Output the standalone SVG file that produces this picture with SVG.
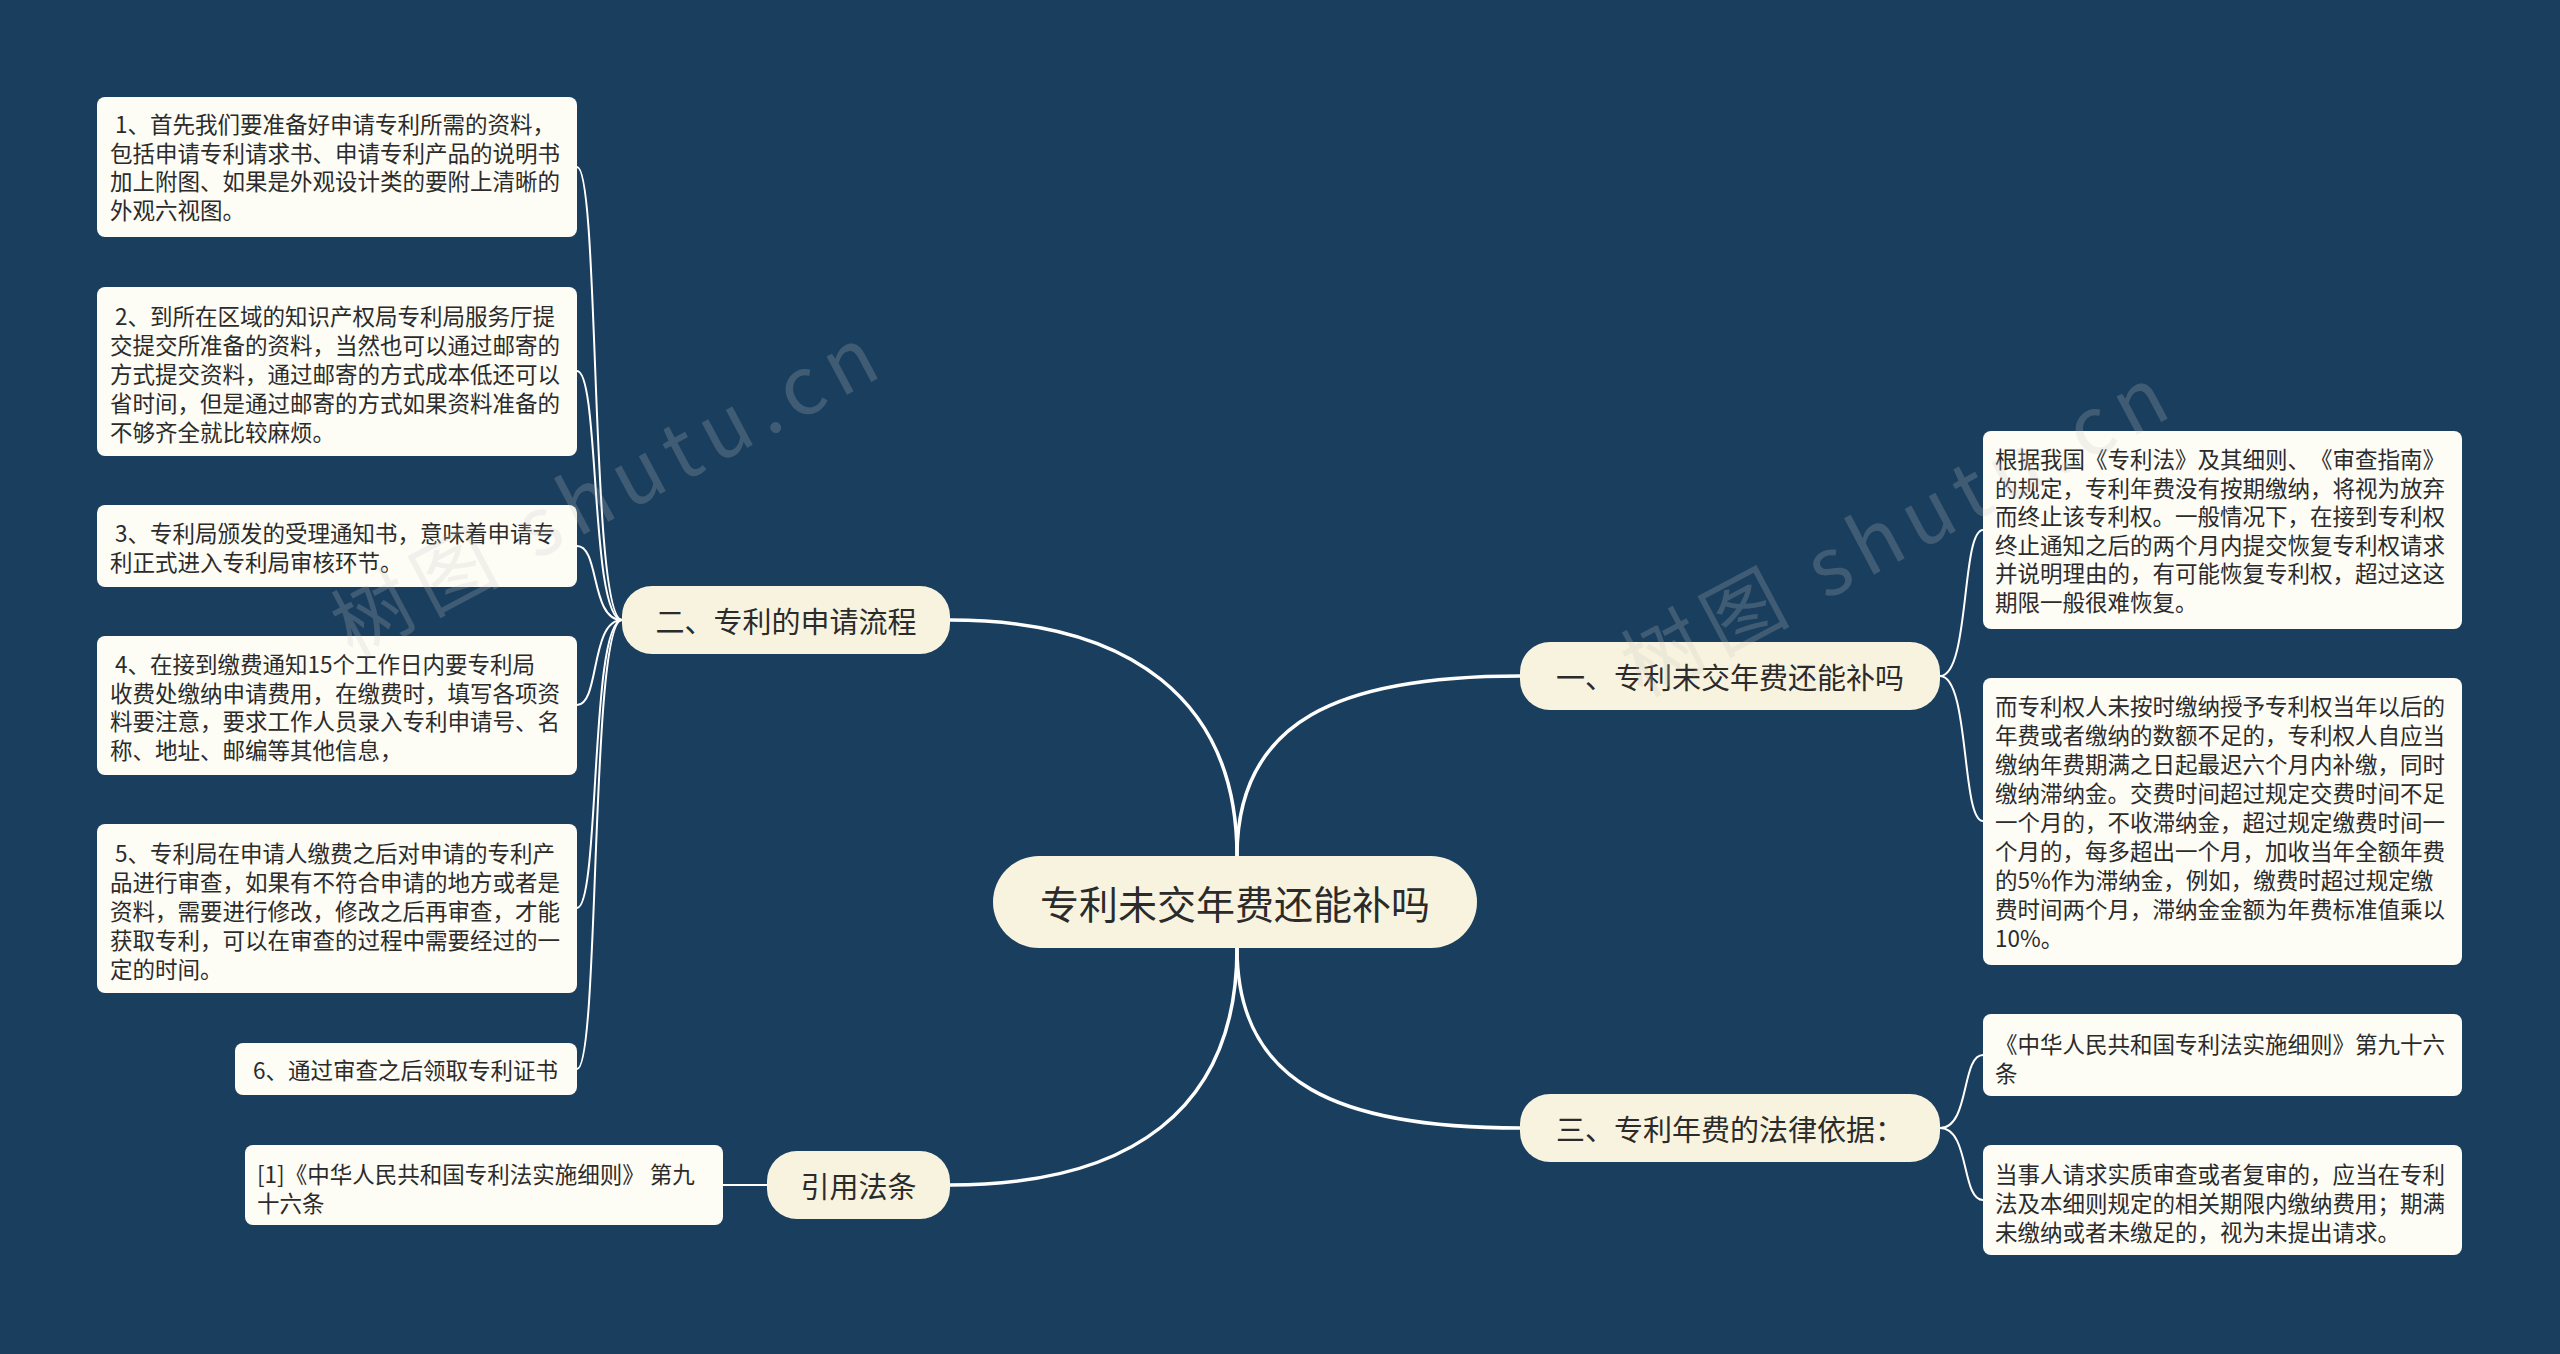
<svg xmlns="http://www.w3.org/2000/svg" width="2560" height="1354" viewBox="0 0 2560 1354">
<style>
.bg{fill:#1a3e5e}
.leaf rect{fill:#fdfcf5}
.branch rect,.root rect{fill:#f8f3de}
text{font-family:"Noto Sans CJK SC","Noto Sans",sans-serif;fill:#2b2b2b;white-space:pre;text-spacing-trim:space-all}
.lt{font-size:22.5px;dominant-baseline:central}
.bt{font-size:29px;dominant-baseline:central;text-anchor:middle}
.rt{font-size:39px;dominant-baseline:central;text-anchor:middle}
.main{fill:none;stroke:#ffffff;stroke-width:3.5}
.sub{fill:none;stroke:#ffffff;stroke-width:2}
.wm{font-size:80px;fill:#c9c9c9;opacity:0.22;letter-spacing:10px}
</style>
<rect class="bg" x="0" y="0" width="2560" height="1354"/>
<g id="connectors">
<path class="main" d="M1237 856 C1237 700 1130 620 950 620"/>
<path class="main" d="M1237 856 C1237 720 1340 676 1520 676"/>
<path class="main" d="M1237 948 C1237 1085 1340 1128 1520 1128"/>
<path class="main" d="M1237 948 C1237 1110 1130 1185 950 1185"/>
<path class="sub" d="M622 620 C590 620 600 167 577 167"/>
<path class="sub" d="M622 620 C590 620 600 371 577 371"/>
<path class="sub" d="M622 620 C590 620 600 546 577 546"/>
<path class="sub" d="M622 620 C590 620 600 705 577 705"/>
<path class="sub" d="M622 620 C590 620 600 908 577 908"/>
<path class="sub" d="M622 620 C590 620 600 1069 577 1069"/>
<path class="sub" d="M1940 676 C1970 676 1961 530 1983 530"/>
<path class="sub" d="M1940 676 C1970 676 1961 821 1983 821"/>
<path class="sub" d="M1940 1128 C1970 1128 1961 1055 1983 1055"/>
<path class="sub" d="M1940 1128 C1970 1128 1961 1200 1983 1200"/>
<path class="sub" d="M767 1185 L723 1185"/>
</g>
<g id="root" class="root">
<rect x="993" y="856" width="484" height="92" rx="46"/>
<text class="rt" x="1235" y="902">专利未交年费还能补吗</text>
</g>
<g id="b1" class="branch">
<rect x="1520" y="642" width="420" height="68" rx="30"/>
<text class="bt" x="1730" y="676">一、专利未交年费还能补吗</text>
</g>
<g id="b2" class="branch">
<rect x="622" y="586" width="328" height="68" rx="30"/>
<text class="bt" x="786" y="620">二、专利的申请流程</text>
</g>
<g id="b3" class="branch">
<rect x="1520" y="1094" width="420" height="68" rx="30"/>
<text class="bt" x="1730" y="1128">三、专利年费的法律依据：</text>
</g>
<g id="b4" class="branch">
<rect x="767" y="1151" width="183" height="68" rx="30"/>
<text class="bt" x="858.5" y="1185">引用法条</text>
</g>
<g id="l1" class="leaf">
<rect x="97" y="97" width="480" height="140" rx="8"/>
<text class="lt"><tspan x="110" y="123"> 1、首先我们要准备好申请专利所需的资料，</tspan><tspan x="110" y="152">包括申请专利请求书、申请专利产品的说明书</tspan><tspan x="110" y="180">加上附图、如果是外观设计类的要附上清晰的</tspan><tspan x="110" y="209">外观六视图。</tspan></text>
</g>
<g id="l2" class="leaf">
<rect x="97" y="287" width="480" height="169" rx="8"/>
<text class="lt"><tspan x="110" y="315"> 2、到所在区域的知识产权局专利局服务厅提</tspan><tspan x="110" y="344">交提交所准备的资料，当然也可以通过邮寄的</tspan><tspan x="110" y="373">方式提交资料，通过邮寄的方式成本低还可以</tspan><tspan x="110" y="402">省时间，但是通过邮寄的方式如果资料准备的</tspan><tspan x="110" y="431">不够齐全就比较麻烦。</tspan></text>
</g>
<g id="l3" class="leaf">
<rect x="97" y="505" width="480" height="82" rx="8"/>
<text class="lt"><tspan x="110" y="532"> 3、专利局颁发的受理通知书，意味着申请专</tspan><tspan x="110" y="561">利正式进入专利局审核环节。</tspan></text>
</g>
<g id="l4" class="leaf">
<rect x="97" y="636" width="480" height="139" rx="8"/>
<text class="lt"><tspan x="110" y="663"> 4、在接到缴费通知15个工作日内要专利局</tspan><tspan x="110" y="692">收费处缴纳申请费用，在缴费时，填写各项资</tspan><tspan x="110" y="720">料要注意，要求工作人员录入专利申请号、名</tspan><tspan x="110" y="749">称、地址、邮编等其他信息，</tspan></text>
</g>
<g id="l5" class="leaf">
<rect x="97" y="824" width="480" height="169" rx="8"/>
<text class="lt"><tspan x="110" y="852"> 5、专利局在申请人缴费之后对申请的专利产</tspan><tspan x="110" y="881">品进行审查，如果有不符合申请的地方或者是</tspan><tspan x="110" y="910">资料，需要进行修改，修改之后再审查，才能</tspan><tspan x="110" y="939">获取专利，可以在审查的过程中需要经过的一</tspan><tspan x="110" y="968">定的时间。</tspan></text>
</g>
<g id="l6" class="leaf">
<rect x="235" y="1043" width="342" height="52" rx="8"/>
<text class="lt" x="248" y="1069"> 6、通过审查之后领取专利证书</text>
</g>
<g id="ref" class="leaf">
<rect x="245" y="1145" width="478" height="80" rx="8"/>
<text class="lt"><tspan x="257" y="1173">[1]《中华人民共和国专利法实施细则》 第九</tspan><tspan x="257" y="1202">十六条</tspan></text>
</g>
<g id="r1" class="leaf">
<rect x="1983" y="431" width="479" height="198" rx="8"/>
<text class="lt"><tspan x="1995" y="458">根据我国《专利法》及其细则、《审查指南》</tspan><tspan x="1995" y="487">的规定，专利年费没有按期缴纳，将视为放弃</tspan><tspan x="1995" y="515">而终止该专利权。一般情况下，在接到专利权</tspan><tspan x="1995" y="544">终止通知之后的两个月内提交恢复专利权请求</tspan><tspan x="1995" y="572">并说明理由的，有可能恢复专利权，超过这这</tspan><tspan x="1995" y="601">期限一般很难恢复。</tspan></text>
</g>
<g id="r2" class="leaf">
<rect x="1983" y="678" width="479" height="287" rx="8"/>
<text class="lt"><tspan x="1995" y="705">而专利权人未按时缴纳授予专利权当年以后的</tspan><tspan x="1995" y="734">年费或者缴纳的数额不足的，专利权人自应当</tspan><tspan x="1995" y="763">缴纳年费期满之日起最迟六个月内补缴，同时</tspan><tspan x="1995" y="792">缴纳滞纳金。交费时间超过规定交费时间不足</tspan><tspan x="1995" y="821">一个月的，不收滞纳金，超过规定缴费时间一</tspan><tspan x="1995" y="850">个月的，每多超出一个月，加收当年全额年费</tspan><tspan x="1995" y="879">的5%作为滞纳金，例如，缴费时超过规定缴</tspan><tspan x="1995" y="908">费时间两个月，滞纳金金额为年费标准值乘以</tspan><tspan x="1995" y="937">10%。</tspan></text>
</g>
<g id="r3" class="leaf">
<rect x="1983" y="1014" width="479" height="82" rx="8"/>
<text class="lt"><tspan x="1995" y="1043">《中华人民共和国专利法实施细则》第九十六</tspan><tspan x="1995" y="1072">条</tspan></text>
</g>
<g id="r4" class="leaf">
<rect x="1983" y="1145" width="479" height="110" rx="8"/>
<text class="lt"><tspan x="1995" y="1173">当事人请求实质审查或者复审的，应当在专利</tspan><tspan x="1995" y="1202">法及本细则规定的相关期限内缴纳费用；期满</tspan><tspan x="1995" y="1231">未缴纳或者未缴足的，视为未提出请求。</tspan></text>
</g>
<g id="watermark">
<text class="wm" transform="translate(352 658) rotate(-28)">树图 shutu.cn</text>
<text class="wm" transform="translate(1642 698) rotate(-28)">树图 shutu.cn</text>
</g>
</svg>
